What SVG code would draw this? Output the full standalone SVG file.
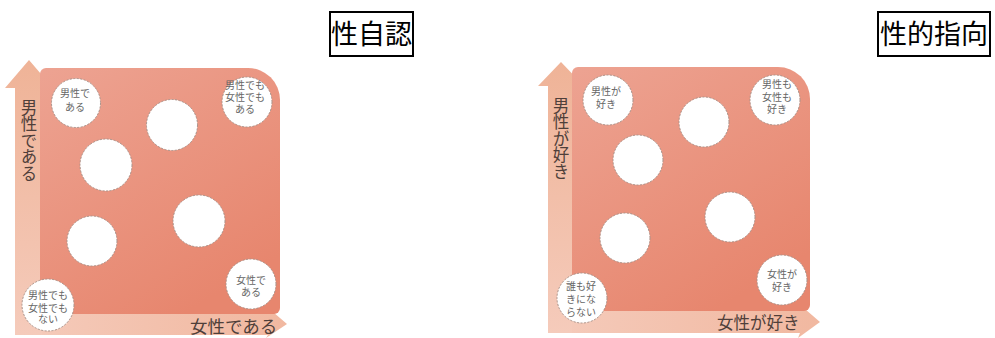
<svg xmlns="http://www.w3.org/2000/svg" width="995" height="338" viewBox="0 0 995 338">
<defs>
  <linearGradient id="sq" x1="0" y1="0" x2="0.6" y2="1">
    <stop offset="0" stop-color="#eda392"/>
    <stop offset="1" stop-color="#e7866e"/>
  </linearGradient>
  <linearGradient id="vArr" x1="0" y1="0" x2="0" y2="1">
    <stop offset="0" stop-color="#efb397"/>
    <stop offset="1" stop-color="#f5cbbb"/>
  </linearGradient>
  <linearGradient id="hArr" x1="0" y1="0" x2="1" y2="0">
    <stop offset="0" stop-color="#f5cbbb"/>
    <stop offset="1" stop-color="#f1b8a0"/>
  </linearGradient>
  <style>
    .title{font-family:"Noto Sans CJK JP","Noto Sans CJK SC",sans-serif;font-size:27px;fill:#000;text-anchor:middle}
    .tbox{fill:#fff;stroke:#000;stroke-width:2}
    .axis{font-family:"Noto Sans CJK JP","Noto Sans CJK SC",sans-serif;font-size:17px;fill:#4f3f3a}
    .vaxis{writing-mode:vertical-rl;text-orientation:upright;font-size:16.5px}
    .node circle{fill:#fff;stroke:#a8948c;stroke-width:1;stroke-dasharray:2 1.5}
    .node text{font-family:"Noto Sans CJK JP","Noto Sans CJK SC",sans-serif;font-size:10px;fill:#666;text-anchor:middle}
  </style>
</defs>

<!-- Titles -->
<g id="title-gender-identity">
  <rect class="tbox" x="330" y="12" width="83" height="44"/>
  <text class="title" x="371.5" y="44">性自認</text>
</g>
<g id="title-sexual-orientation">
  <rect class="tbox" x="878" y="12" width="112" height="44"/>
  <text class="title" x="934" y="44">性的指向</text>
</g>

<!-- Axis arrows -->
<g id="connectors">
  <polygon fill="url(#hArr)" points="15,314 268,314 266,306 287,324 266,338 268,335 15,335"/>
  <polygon fill="url(#vArr)" points="29,60 53,88 42,88 42,335 15,335 15,88 5,88"/>
  <polygon fill="url(#hArr)" points="548,311 800,311 798,303 820,322 798,338 800,333 548,333"/>
  <polygon fill="url(#vArr)" points="561,62 584,86 572,86 572,333 548,333 548,86 538,86"/>
</g>

<!-- Left panel -->
<g id="panel-left">
  <path fill="url(#sq)" d="M46,68 H248 A32,32 0 0 1 280,100 V308 A6,6 0 0 1 274,314 H46 A6,6 0 0 1 40,308 V74 A6,6 0 0 1 46,68 Z"/>
  <text class="axis vaxis" x="29" y="99">男性である</text>
  <text class="axis" x="190" y="333" style="font-size:17.5px">女性である</text>
</g>

<g id="node-l-male" class="node">
  <circle cx="76" cy="103" r="24.5"/>
  <text><tspan x="75" y="97">男性で</tspan><tspan x="75" y="111">ある</tspan></text>
</g>
<g id="node-l-both" class="node">
  <circle cx="247" cy="102" r="25"/>
  <text><tspan x="245" y="89">男性でも</tspan><tspan x="245" y="101">女性でも</tspan><tspan x="245" y="113">ある</tspan></text>
</g>
<g id="node-l-c1" class="node"><circle cx="172" cy="125" r="25.5"/></g>
<g id="node-l-c2" class="node"><circle cx="106" cy="165" r="26"/></g>
<g id="node-l-c3" class="node"><circle cx="199" cy="221" r="26"/></g>
<g id="node-l-c4" class="node"><circle cx="92" cy="241" r="25"/></g>
<g id="node-l-female" class="node">
  <circle cx="251" cy="284" r="25"/>
  <text><tspan x="251" y="284">女性で</tspan><tspan x="251" y="296">ある</tspan></text>
</g>
<g id="node-l-neither" class="node">
  <circle cx="48" cy="305" r="26"/>
  <text><tspan x="48" y="299">男性でも</tspan><tspan x="48" y="311.5">女性でも</tspan><tspan x="48" y="323">ない</tspan></text>
</g>

<!-- Right panel -->
<g id="panel-right">
  <path fill="url(#sq)" d="M578,67 H778 A32,32 0 0 1 810,99 V305 A6,6 0 0 1 804,311 H578 A6,6 0 0 1 572,305 V73 A6,6 0 0 1 578,67 Z"/>
  <text class="axis vaxis" x="561" y="97">男性が好き</text>
  <text class="axis" x="717" y="329" style="font-size:16.5px">女性が好き</text>
</g>

<g id="node-r-male" class="node">
  <circle cx="608" cy="100" r="25"/>
  <text><tspan x="606" y="95">男性が</tspan><tspan x="606" y="108">好き</tspan></text>
</g>
<g id="node-r-both" class="node">
  <circle cx="775" cy="100" r="25"/>
  <text><tspan x="777" y="88">男性も</tspan><tspan x="777" y="100.5">女性も</tspan><tspan x="777" y="113">好き</tspan></text>
</g>
<g id="node-r-c1" class="node"><circle cx="704" cy="122" r="25"/></g>
<g id="node-r-c2" class="node"><circle cx="638" cy="160" r="25"/></g>
<g id="node-r-c3" class="node"><circle cx="730" cy="217" r="25"/></g>
<g id="node-r-c4" class="node"><circle cx="625" cy="238" r="25"/></g>
<g id="node-r-female" class="node">
  <circle cx="782" cy="280" r="25"/>
  <text><tspan x="782" y="278">女性が</tspan><tspan x="782" y="291">好き</tspan></text>
</g>
<g id="node-r-none" class="node">
  <circle cx="582" cy="298" r="25"/>
  <text><tspan x="581" y="290">誰も好</tspan><tspan x="581" y="303">きにな</tspan><tspan x="581" y="316">らない</tspan></text>
</g>
</svg>
